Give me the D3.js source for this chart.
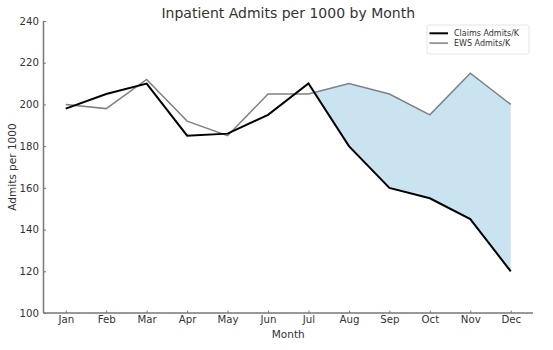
<!DOCTYPE html>
<html><head><meta charset="utf-8">
<script src="https://cdn.jsdelivr.net/npm/d3@7"></script>
<style>body{margin:0;background:#fff}svg{display:block;font-family:"DejaVu Sans",sans-serif}</style>
</head><body><svg id="c" width="553" height="350"></svg>
<script>
const months = ["Jan","Feb","Mar","Apr","May","Jun","Jul","Aug","Sep","Oct","Nov","Dec"];
const claims = [198,205,210,185,186,195,210,180,160,155,145,120];
const ews = [200,198,212,192,185,205,205,210,205,195,215,200];
const yTicks = [100,120,140,160,180,200,220,240];
const fillFrom = 6; // shading starts after Jul where EWS exceeds Claims

const svg = d3.select("#c");
const L = 43.5, R = 533, T = 21, B = 313;
const x = d3.scaleLinear().domain([-0.55, 11.55]).range([L, R]);
const y = d3.scaleLinear().domain([100, 240]).range([B, T]);
const txt = "#333", spine = "#777";

// fill area
const pts = [];
for (let i = fillFrom; i < months.length; i++) {
  const d0 = ews[i] - claims[i];
  if (d0 >= 0) pts.push({i, e: ews[i], c: claims[i]});
  if (i + 1 < months.length) {
    const d1 = ews[i+1] - claims[i+1];
    if ((d0 < 0 && d1 > 0) || (d0 > 0 && d1 < 0)) {
      const t = d0 / (d0 - d1);
      const v = claims[i] + t * (claims[i+1] - claims[i]);
      pts.push({i: i + t, e: v, c: v});
    }
  }
}
svg.append("path").datum(pts)
  .attr("d", d3.area().x(d => x(d.i)).y0(d => y(d.c)).y1(d => y(d.e)))
  .attr("fill", "#c9e4f0");

const line = arr => d3.line().x((d, i) => x(i)).y(d => y(d))(arr);
svg.append("path").attr("d", line(ews)).attr("fill", "none").attr("stroke", "#808080").attr("stroke-width", 1.5);
svg.append("path").attr("d", line(claims)).attr("fill", "none").attr("stroke", "#000").attr("stroke-width", 2);

// axes
const xAxis = svg.append("g").attr("transform", `translate(0,${B})`)
  .call(d3.axisBottom(x).tickValues(d3.range(12)).tickFormat(i => months[i]).tickSize(-2.5).tickPadding(3));
const yAxis = svg.append("g").attr("transform", `translate(${L},0)`)
  .call(d3.axisLeft(y).tickValues(yTicks).tickSize(-2.5).tickPadding(4.5));
[xAxis, yAxis].forEach(g => {
  g.select(".domain").attr("stroke", spine).attr("stroke-width", 1.5);
  g.selectAll(".tick line").attr("stroke", spine);
  g.selectAll(".tick text").attr("fill", txt).attr("font-size", 10.2).attr("font-family", "DejaVu Sans");
});
xAxis.select(".domain").attr("d", `M${L},0H${R}`);
yAxis.select(".domain").attr("d", `M0,${B}V${T}`);

svg.append("text").attr("x", (L + R) / 2).attr("y", 18).attr("text-anchor", "middle")
  .attr("font-size", 14).attr("fill", txt).text("Inpatient Admits per 1000 by Month");
svg.append("text").attr("x", (L + R) / 2).attr("y", 337.5).attr("text-anchor", "middle")
  .attr("font-size", 10.5).attr("fill", txt).text("Month");
svg.append("text").attr("transform", `translate(16,${(T + B) / 2}) rotate(-90)`).attr("text-anchor", "middle")
  .attr("font-size", 10.5).attr("fill", txt).text("Admits per 1000");

// legend
const lg = svg.append("g").attr("transform", "translate(427,25)");
lg.append("rect").attr("width", 102).attr("height", 29).attr("rx", 2).attr("fill", "#fff")
  .attr("stroke", "#ddd").attr("stroke-width", 0.8);
const items = [{name: "Claims Admits/K", c: "#000", w: 2}, {name: "EWS Admits/K", c: "#808080", w: 1.5}];
items.forEach((it, k) => {
  const yy = 8.3 + k * 9.8;
  lg.append("line").attr("x1", 2.5).attr("x2", 21).attr("y1", yy).attr("y2", yy).attr("stroke", it.c).attr("stroke-width", it.w);
  lg.append("text").attr("x", 27).attr("y", yy + 3).attr("font-size", 8).attr("fill", txt).text(it.name);
});
</script></body></html>
